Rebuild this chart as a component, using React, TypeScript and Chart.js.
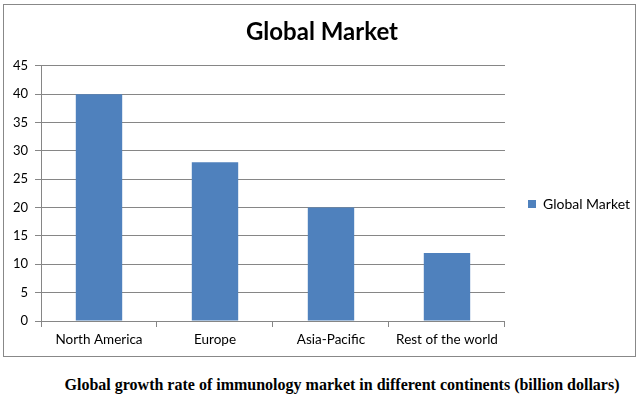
import React, { useEffect, useRef } from "react";
import { Chart, registerables } from "chart.js";

Chart.register(...registerables);

const categories = ["North America", "Europe", "Asia-Pacific", "Rest of the world"];
const seriesName = "Global Market";
const values = [40, 28, 20, 12];
const yMin = 0;
const yMax = 45;
const yStep = 5;
const chartTitle = "Global Market";
const caption = "Global growth rate of immunology market in different continents (billion dollars)";

export default function App() {
  const canvasRef = useRef<HTMLCanvasElement | null>(null);

  useEffect(() => {
    document.body.style.margin = "0";
    const canvas = canvasRef.current;
    if (!canvas) return;
    const grid = "#868686";
    const chart = new Chart(canvas, {
      type: "bar",
      data: {
        labels: categories,
        datasets: [
          {
            label: seriesName,
            data: values,
            backgroundColor: "#4F81BD",
            borderWidth: 0,
            barPercentage: 0.4,
            categoryPercentage: 1,
          },
        ],
      },
      options: {
        animation: false,
        responsive: false,
        maintainAspectRatio: false,
        layout: { padding: { left: 0, right: 0, top: 0, bottom: 0 } },
        plugins: {
          title: {
            display: true,
            text: chartTitle,
            color: "#000",
            font: { family: "Lato", size: 24, weight: "bold" },
            padding: { top: 13, bottom: 19 },
          },
          legend: {
            display: true,
            position: "right",
            title: {
              display: true,
              text: " ",
              font: { family: "Lato", size: 10 },
              padding: { top: 17, bottom: 17 },
            },
            labels: {
              boxWidth: 8,
              boxHeight: 8,
              padding: 23,
              color: "#000",
              font: { family: "Lato", size: 14 },
            },
          },
          tooltip: { enabled: false },
        },
        scales: {
          x: {
            grid: {
              display: true,
              drawOnChartArea: false,
              drawTicks: true,
              tickLength: 6,
              color: grid,
              offset: true,
            },
            border: { display: true, color: grid },
            ticks: {
              color: "#000",
              font: { family: "Lato", size: 13.5 },
              padding: 5,
              maxRotation: 0,
            },
            afterFit: (s: any) => {
              s.height = 36;
            },
          },
          y: {
            min: yMin,
            max: yMax,
            grid: {
              display: true,
              drawOnChartArea: true,
              drawTicks: true,
              tickLength: 6,
              color: grid,
            },
            border: { display: true, color: grid },
            ticks: {
              stepSize: yStep,
              color: "#000",
              font: { family: "Lato", size: 13 },
              padding: 7,
            },
            afterFit: (s: any) => {
              s.width = 37;
            },
          },
        },
      },
    });
    return () => chart.destroy();
  }, []);

  return (
    <div style={{ position: "relative", width: 640, height: 395, background: "#fff", overflow: "hidden" }}>
      <div
        style={{
          position: "absolute",
          left: 3,
          top: 4,
          width: 633,
          height: 353,
          border: "1px solid #888",
          boxSizing: "border-box",
        }}
      />
      <canvas
        ref={canvasRef}
        width={636}
        height={352}
        style={{ position: "absolute", left: 4, top: 5, width: 636, height: 352 }}
      />
      <div
        style={{
          position: "absolute",
          left: 342,
          top: 375,
          transform: "translateX(-50%)",
          whiteSpace: "nowrap",
          fontFamily: "'Liberation Serif', serif",
          fontWeight: "bold",
          fontSize: 16,
          lineHeight: "20px",
          color: "#000",
        }}
      >
        {caption}
      </div>
    </div>
  );
}
